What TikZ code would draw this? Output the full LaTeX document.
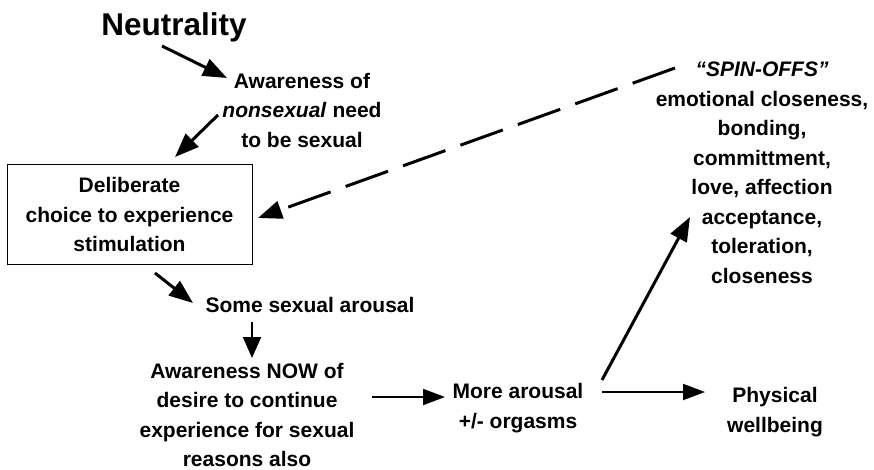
\documentclass[tikz,border=0pt]{standalone}
\usepackage{fontspec}
\setmainfont{Liberation Sans}
\usetikzlibrary{arrows.meta}

\tikzset{
  txt/.style={align=center, font=\bfseries\fontsize{21}{29.5}\selectfont, inner sep=2pt},
  arr/.style={line width=3pt, -{Triangle[length=24pt,width=18pt]}},
  harr/.style={line width=2pt, -{Triangle[length=22pt,width=16pt]}},
}

\begin{document}
\begin{tikzpicture}[x=1pt,y=-1pt]
    % Fixed frame, same size as the page
    \useasboundingbox (0,0) rectangle (874,470);

    % Left column
    \node[font=\bfseries\fontsize{31.5}{36}\selectfont] (neut) at (174,27) {Neutrality};
    \node[txt] (aware) at (302,110) {Awareness of\\\textit{nonsexual} need\\to be sexual};
    \node[txt, draw, line width=1pt, minimum width=245pt, minimum height=99pt] (choice) at (129.5,214.5)
        {Deliberate\\choice to experience\\stimulation};
    \node[txt] (some) at (310,305) {Some sexual arousal};
    \node[txt] (now) at (247,415) {Awareness NOW of\\desire to continue\\experience for sexual\\reasons also};

    % Middle and right
    \node[txt] (more) at (518,408) {More arousal\\+/- orgasms};
    \node[txt] (phys) at (775,412) {Physical\\wellbeing};
    \node[txt] (spin) at (762,173) {\textit{``SPIN-OFFS''}\\emotional closeness,\\bonding,\\committment,\\love, affection\\acceptance,\\toleration,\\closeness};

    % Arrows down the left side
    \draw[arr] ([shift={(-12,19)}]neut.center) -- ([shift={(-75,-32)}]aware.center);
    \draw[arr] ([shift={(-84,5)}]aware.center) -- ([shift={(45.5,-57.5)}]choice.center);
    \draw[arr] ([shift={(25.5,58.5)}]choice.center) -- ([shift={(-117,-2)}]some.center);
    \draw[harr, -{Triangle[length=21pt,width=18pt]}] ([shift={(-58,17)}]some.center) -- ([shift={(5,-57)}]now.center);

    % Arrows to the right
    \draw[harr] ([shift={(125,-18)}]now.center) -- ([shift={(-73,-11)}]more.center);
    \draw[harr] ([shift={(84,-16)}]more.center) -- ([shift={(-70,-20)}]phys.center);
    \draw[arr] ([shift={(84,-28)}]more.center) -- ([shift={(-72,44)}]spin.center);

    % Dashed feedback from the spin-offs
    \draw[arr, dash pattern=on 45pt off 16pt] ([shift={(-87,-105)}]spin.center) -- ([shift={(128.5,3.5)}]choice.center);
\end{tikzpicture}
\end{document}
